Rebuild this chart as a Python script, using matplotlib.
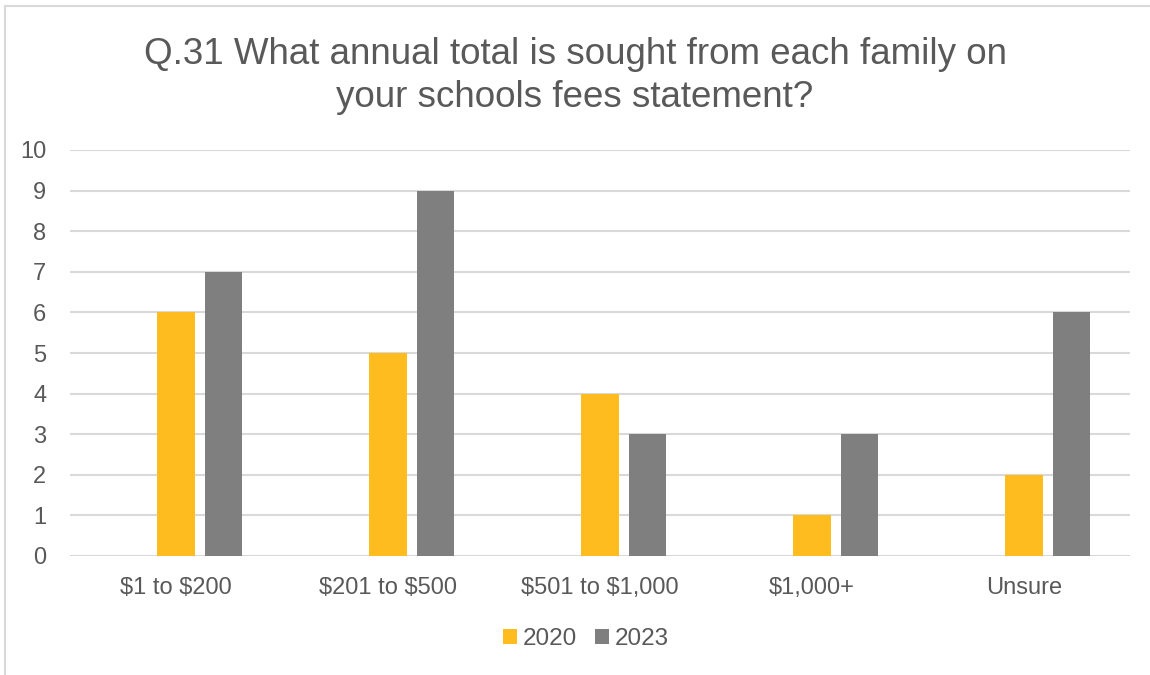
import matplotlib
matplotlib.use('Agg')
import matplotlib.pyplot as plt
import numpy as np
from matplotlib.patches import Rectangle

plt.rcParams['font.family'] = ['Liberation Sans', 'DejaVu Sans']
plt.rcParams['text.parse_math'] = False

categories = ['$1 to $200', '$201 to $500', '$501 to $1,000', '$1,000+', 'Unsure']
counts_2020 = [6, 5, 4, 1, 2]
counts_2023 = [7, 9, 3, 3, 6]
series_names = ['2020', '2023']

ORANGE = '#FFBC1F'
GREY = '#7F7F7F'
TEXT = '#595959'
GRID = '#D9D9D9'

fig = plt.figure(figsize=(11.5, 6.75), dpi=100)
ax = fig.add_axes([70 / 1150, 1 - 556 / 675, 1060 / 1150, 406 / 675])

x = np.arange(len(categories))
width = 0.175
ax.bar(x, counts_2020, width, color=ORANGE, label=series_names[0], zorder=3)
ax.bar(x + 0.226, counts_2023, width, color=GREY, label=series_names[1], zorder=3)

ax.set_xlim(-0.5, len(categories) - 0.5)
ax.set_ylim(0, 10)
ax.set_yticks(range(0, 11))
ax.set_xticks(x)
ax.set_xticklabels(categories)
ax.yaxis.grid(True, color=GRID, linewidth=1.5, zorder=0)
for s in ax.spines.values():
    s.set_visible(False)
ax.tick_params(length=0, labelsize=17, labelcolor=TEXT)
ax.tick_params(axis='x', pad=15)
ax.tick_params(axis='y', pad=17)

fig.text(0.5, 1 - 76 / 675, 'Q.31 What annual total is sought from each family on\nyour schools fees statement?',
         ha='center', va='center', fontsize=26.5, color=TEXT, linespacing=1.3)

leg = fig.legend(loc='center', bbox_to_anchor=(586 / 1150, 1 - 639 / 675), ncol=2, frameon=False,
                 fontsize=17.5, handlelength=0.55, handleheight=0.55, handletextpad=0.25, columnspacing=0.75)
for t in leg.get_texts():
    t.set_color(TEXT)

# chart frame
fig.patches.append(Rectangle((5 / 1150, -0.1), 1.2, 1 - 6 / 675 + 0.1, transform=fig.transFigure,
                             fill=False, edgecolor='#D9D9D9', linewidth=1.5))

fig.savefig('out.png', dpi=100, facecolor='white')
